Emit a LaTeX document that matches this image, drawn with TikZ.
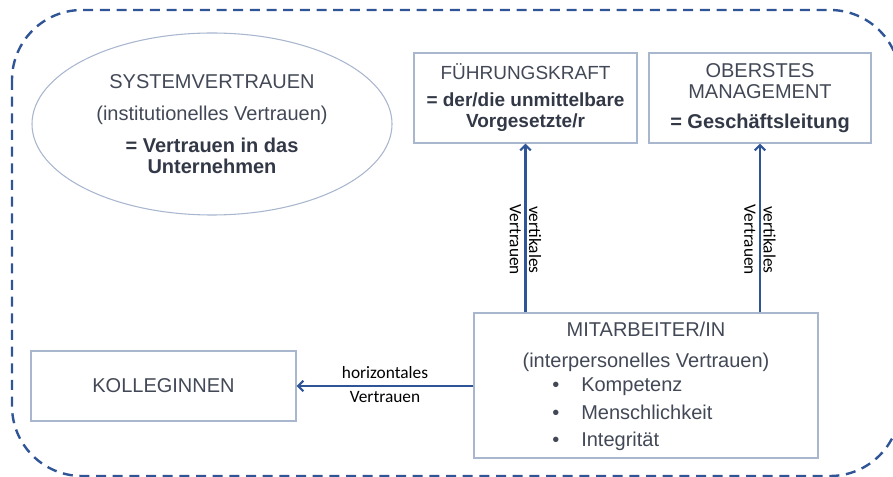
\documentclass[tikz,border=0pt]{standalone}
\usepackage{fontspec}
\setmainfont{Liberation Sans}
\newfontfamily\labelfont{Carlito}
\usetikzlibrary{arrows.meta,shapes.geometric}

\definecolor{trustblue}{RGB}{47,85,151}
\definecolor{boxline}{RGB}{168,182,206}
\definecolor{txtgray}{RGB}{66,72,86}
\definecolor{txtdark}{RGB}{50,56,70}
\newcommand{\boldtxt}[1]{\textcolor{txtdark}{\bfseries #1}}

\begin{document}
\begin{tikzpicture}[x=0.75pt,y=-0.75pt,
    box/.style={draw=boxline, line width=0.8pt, inner sep=0pt, align=center,
        text=txtgray, font=\fontsize{15}{16}\selectfont},
    txt/.style={text=txtgray, inner sep=0pt, font=\fontsize{15}{16}\selectfont},
    trust/.style={draw=trustblue, line width=1.6pt, -{Straight Barb[length=4pt,width=8pt]}},
    lbl/.style={font=\labelfont\fontsize{13}{14.5}\selectfont, text=black, inner sep=3pt}]
    \useasboundingbox (0,0) rectangle (893,477);
    \clip (0,0) rectangle (893,477);

    % dashed frame round everything
    \draw[trustblue, line width=1.8pt, dash pattern=on 7.5pt off 5pt, rounded corners=52.5pt]
        (12,10) rectangle (900,476);

    % system trust
    \node[box, ellipse, minimum width=270pt, minimum height=136.5pt] (sys) at (212,124)
        {SYSTEMVERTRAUEN\\[8pt](institutionelles Vertrauen)\\[8pt]\boldtxt{= Vertrauen in das}\\\boldtxt{Unternehmen}};

    % the three partners
    \node[box, minimum width=167.25pt, minimum height=67.5pt, font=\fontsize{14.25}{16}\selectfont] (fk) at (525.5,98)
        {FÜHRUNGSKRAFT\\[4pt]\boldtxt{= der/die unmittelbare}\\\boldtxt{Vorgesetzte/r}};
    \node[box, minimum width=166.5pt, minimum height=67.5pt] (ob) at (760,98)
        {OBERSTES\\MANAGEMENT\\[6.5pt]\boldtxt{= Geschäftsleitung}};
    \node[box, minimum width=198.75pt, minimum height=52.5pt] (kol) at (163.5,386) {KOLLEGINNEN};

    % employee
    \node[box, minimum width=258pt, minimum height=108.75pt] (mit) at (646,385.5) {};
    \node[txt, anchor=base] (mitT1) at (646,337) {MITARBEITER/IN};
    \node[txt, anchor=base] (mitT2) at (646,368) {(interpersonelles Vertrauen)};
    \foreach \t [count=\i] in {Kompetenz,Menschlichkeit,Integrität}
        \node[txt, anchor=base west] (mitB\i) at (552,{392+27*(\i-1)}) {\textbullet\hspace{16.5pt}\t};

    % trust relations
    \draw[trust] (fk.south |- mit.north) -- node[lbl, rotate=-90, align=center, pos=0.43] (vfk) {vertikales\\Vertrauen} (fk.south);
    \draw[trust] (ob.south |- mit.north) -- node[lbl, rotate=-90, align=center, pos=0.43] (vob) {vertikales\\Vertrauen} (ob.south);
    \draw[trust] (mit.west |- kol.east) -- node[lbl, above, yshift=1.5pt] (hor1) {horizontales}
        node[lbl, below] (hor2) {Vertrauen} (kol.east);
\end{tikzpicture}
\end{document}
